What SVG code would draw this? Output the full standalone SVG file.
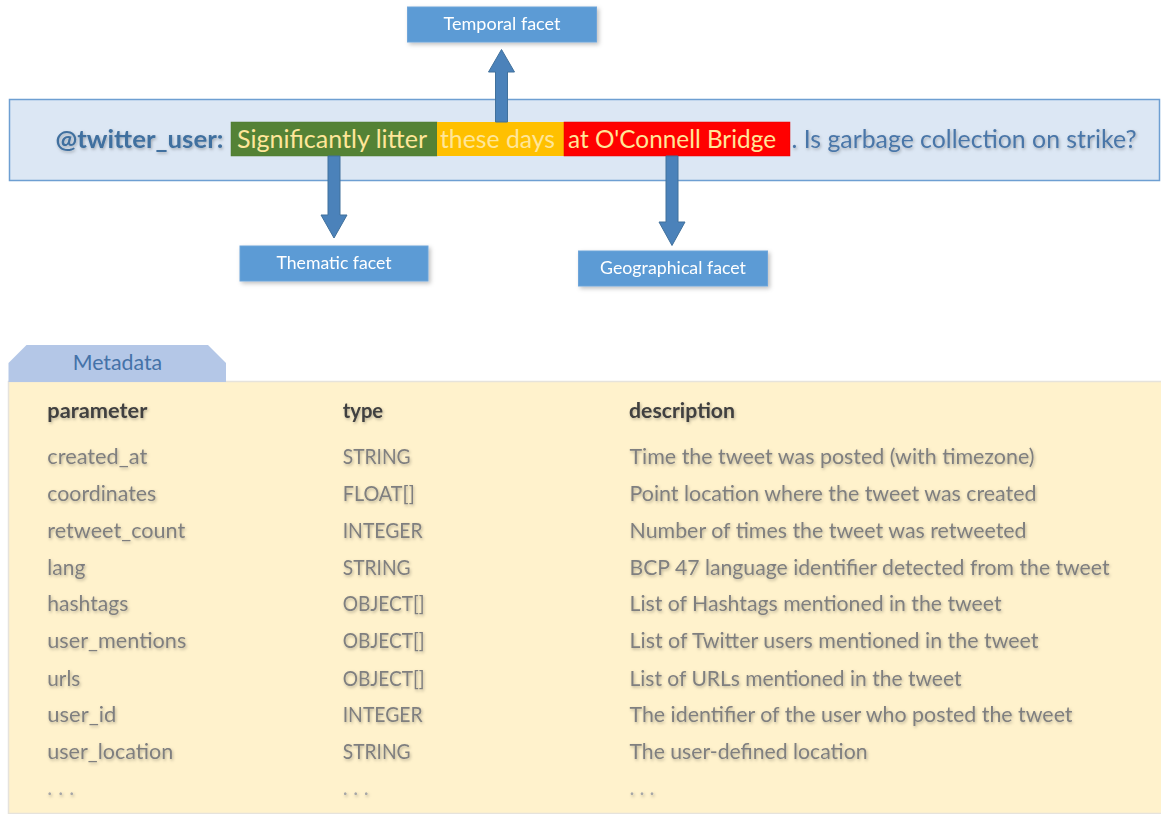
<svg xmlns="http://www.w3.org/2000/svg" width="1161" height="814" viewBox="0 0 1161 814">
  <defs>
    <filter id="boxShadow" x="-10%" y="-20%" width="130%" height="160%">
      <feDropShadow dx="2" dy="2" stdDeviation="2" flood-color="#000" flood-opacity="0.25"/>
    </filter>
    <filter id="textShadow" x="-5%" y="-30%" width="110%" height="170%">
      <feDropShadow dx="1" dy="1.5" stdDeviation="1.8" flood-color="#000" flood-opacity="0.28"/>
    </filter>
    <style>
      .ui { font-family: Lato, "Open Sans", "Liberation Sans", sans-serif; }
      .facet rect { fill: #5b9bd5; stroke: #6fa5d9; stroke-width: 1; }
      .facet text { fill: #ffffff; font-size: 16.5px; text-anchor: middle; }
      .arrow { fill: #4b82ba; stroke: #41719c; stroke-width: 1; }
      .hdr { fill: #404040; font-size: 21px; font-weight: bold; }
      .cell { fill: #7f7f7f; font-size: 21px; }
      .dots { fill: #a6a6a6; font-size: 21px; }
      .seg { fill: #ffe699; font-size: 24.5px; }
    </style>
  </defs>

  <rect width="1161" height="814" fill="#ffffff"/>

  <!-- tweet banner -->
  <g id="tweet" class="ui">
    <rect x="9.5" y="99.5" width="1150" height="81" fill="#dce7f4" stroke="#6e9fd2" stroke-width="1.5"/>
    <text x="55.5" y="148" font-size="24.5" font-weight="bold" fill="#41709f" filter="url(#textShadow)" textLength="168" lengthAdjust="spacingAndGlyphs">@twitter_user:</text>
    <g id="thematic-span">
      <rect x="231" y="122" width="206" height="34" fill="#548235" stroke="#4d7a30" stroke-width="0.5"/>
      <text class="seg" x="237" y="148" textLength="190" lengthAdjust="spacingAndGlyphs">Significantly litter</text>
    </g>
    <g id="temporal-span">
      <rect x="437" y="122" width="127" height="34" fill="#ffc000"/>
      <text class="seg" x="440" y="148" textLength="115" lengthAdjust="spacingAndGlyphs">these days</text>
    </g>
    <g id="geographical-span">
      <rect x="564" y="122" width="226" height="34" fill="#ff0000" stroke="#e00000" stroke-width="0.5"/>
      <text class="seg" x="568" y="148" textLength="208" lengthAdjust="spacingAndGlyphs">at O'Connell Bridge</text>
    </g>
    <text x="791.5" y="148" font-size="24.5" fill="#4a76a8" filter="url(#textShadow)" textLength="345" lengthAdjust="spacingAndGlyphs">. Is garbage collection on strike?</text>
  </g>

  <!-- facet labels -->
  <g id="temporal-facet" class="facet ui" filter="url(#boxShadow)">
    <rect x="407.5" y="7" width="189" height="35"/>
    <text x="502" y="30" textLength="117" lengthAdjust="spacingAndGlyphs">Temporal facet</text>
  </g>
  <g id="thematic-facet" class="facet ui" filter="url(#boxShadow)">
    <rect x="240" y="246" width="188" height="35"/>
    <text x="334" y="269" textLength="115" lengthAdjust="spacingAndGlyphs">Thematic facet</text>
  </g>
  <g id="geographical-facet" class="facet ui" filter="url(#boxShadow)">
    <rect x="578.5" y="251" width="189" height="35"/>
    <text x="673" y="274" textLength="146" lengthAdjust="spacingAndGlyphs">Geographical facet</text>
  </g>

  <!-- block arrows from highlighted spans to facets -->
  <g id="connectors">
    <path class="arrow" d="M495.5,122 V72 H488.5 L501.5,49.5 L514.5,72 H507.5 V122 Z"/>
    <path class="arrow" d="M328,156 V215 H321 L334,238 L347,215 H340 V156 Z"/>
    <path class="arrow" d="M666,156 V222 H659 L672,245.5 L685,222 H678 V156 Z"/>
  </g>

  <!-- metadata panel -->
  <g id="metadata" class="ui">
    <rect x="8.5" y="381.5" width="1160" height="432" fill="#fff2cc" stroke="#e6e3dc" stroke-width="1.5"/>
    <path d="M8.5,382 V363 L26.5,345 H208 L226,363 V382 Z" fill="#b4c7e7"/>
    <text x="72.7" y="370" font-size="21" fill="#4472a8" textLength="89.5" lengthAdjust="spacingAndGlyphs">Metadata</text>

    <g id="table" filter="url(#textShadow)">
      <text class="hdr" x="47.3" y="418.3" textLength="100" lengthAdjust="spacingAndGlyphs">parameter</text>
      <text class="hdr" x="342.7" y="418.3" textLength="40.5" lengthAdjust="spacingAndGlyphs">type</text>
      <text class="hdr" x="629" y="418.3" textLength="106" lengthAdjust="spacingAndGlyphs">description</text>

      <text class="cell" x="47.3" y="464" textLength="100" lengthAdjust="spacingAndGlyphs">created_at</text>
      <text class="cell" x="342.7" y="464" textLength="68" lengthAdjust="spacingAndGlyphs">STRING</text>
      <text class="cell" x="629.5" y="464" textLength="405" lengthAdjust="spacingAndGlyphs">Time the tweet was posted (with timezone)</text>

      <text class="cell" x="47.3" y="501" textLength="109" lengthAdjust="spacingAndGlyphs">coordinates</text>
      <text class="cell" x="342.7" y="501" textLength="72" lengthAdjust="spacingAndGlyphs">FLOAT[]</text>
      <text class="cell" x="629.5" y="501" textLength="407" lengthAdjust="spacingAndGlyphs">Point location where the tweet was created</text>

      <text class="cell" x="47.3" y="538" textLength="138" lengthAdjust="spacingAndGlyphs">retweet_count</text>
      <text class="cell" x="342.7" y="538" textLength="80" lengthAdjust="spacingAndGlyphs">INTEGER</text>
      <text class="cell" x="629.5" y="538" textLength="397" lengthAdjust="spacingAndGlyphs">Number of times the tweet was retweeted</text>

      <text class="cell" x="47.3" y="574.5" textLength="38" lengthAdjust="spacingAndGlyphs">lang</text>
      <text class="cell" x="342.7" y="574.5" textLength="68" lengthAdjust="spacingAndGlyphs">STRING</text>
      <text class="cell" x="629.5" y="574.5" textLength="480" lengthAdjust="spacingAndGlyphs">BCP 47 language identifier detected from the tweet</text>

      <text class="cell" x="47.3" y="611" textLength="81" lengthAdjust="spacingAndGlyphs">hashtags</text>
      <text class="cell" x="342.7" y="611" textLength="82" lengthAdjust="spacingAndGlyphs">OBJECT[]</text>
      <text class="cell" x="629.5" y="611" textLength="372" lengthAdjust="spacingAndGlyphs">List of Hashtags mentioned in the tweet</text>

      <text class="cell" x="47.3" y="648" textLength="139" lengthAdjust="spacingAndGlyphs">user_mentions</text>
      <text class="cell" x="342.7" y="648" textLength="82" lengthAdjust="spacingAndGlyphs">OBJECT[]</text>
      <text class="cell" x="629.5" y="648" textLength="409" lengthAdjust="spacingAndGlyphs">List of Twitter users mentioned in the tweet</text>

      <text class="cell" x="47.3" y="685.5" textLength="33" lengthAdjust="spacingAndGlyphs">urls</text>
      <text class="cell" x="342.7" y="685.5" textLength="82" lengthAdjust="spacingAndGlyphs">OBJECT[]</text>
      <text class="cell" x="629.5" y="685.5" textLength="332" lengthAdjust="spacingAndGlyphs">List of URLs mentioned in the tweet</text>

      <text class="cell" x="47.3" y="722" textLength="69" lengthAdjust="spacingAndGlyphs">user_id</text>
      <text class="cell" x="342.7" y="722" textLength="80" lengthAdjust="spacingAndGlyphs">INTEGER</text>
      <text class="cell" x="629.5" y="722" textLength="443" lengthAdjust="spacingAndGlyphs">The identifier of the user who posted the tweet</text>

      <text class="cell" x="47.3" y="759" textLength="126" lengthAdjust="spacingAndGlyphs">user_location</text>
      <text class="cell" x="342.7" y="759" textLength="68" lengthAdjust="spacingAndGlyphs">STRING</text>
      <text class="cell" x="629.5" y="759" textLength="238" lengthAdjust="spacingAndGlyphs">The user-defined location</text>

      <text class="dots" x="47.3" y="795" textLength="27" lengthAdjust="spacing">. . .</text>
      <text class="dots" x="342.7" y="795" textLength="26" lengthAdjust="spacing">. . .</text>
      <text class="dots" x="629.5" y="795" textLength="25" lengthAdjust="spacing">. . .</text>
    </g>
  </g>
</svg>
